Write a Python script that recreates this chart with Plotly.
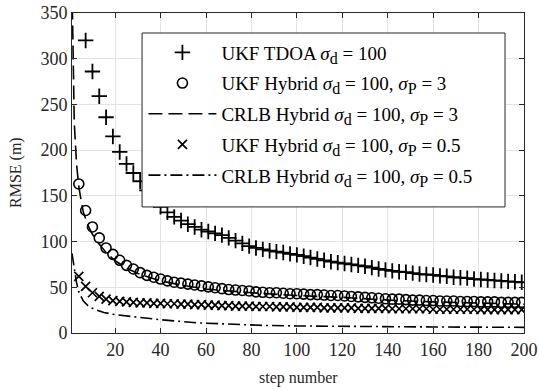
import plotly.graph_objects as go

# UKF outputs sampled every 3 steps
ukf_steps = list(range(1, 200, 3))

ukf_tdoa = [460, 375, 320, 286, 259, 236, 215, 198, 185, 175, 166, 156, 146, 138, 132, 127, 123,
            119, 116, 113, 111, 109, 107, 104, 101, 98, 95, 93, 91.5, 90, 89, 88, 86.5, 85.5,
            84, 82.5, 81, 79.5, 78, 77, 76, 75, 74, 73, 71.5, 70, 69, 68, 67, 66.5, 65.5, 64.5,
            64, 63.5, 62.5, 62, 61, 60.5, 60, 59, 58.5, 58, 57.5, 57, 56.5, 56, 55.5]

ukf_hyb3 = [420, 163, 134, 116, 104, 93, 86, 79.5, 74, 70, 66, 63, 61, 59, 57, 55.5, 54.5,
            53.5, 52.5, 51.5, 50.5, 49.5, 48.5, 47.5, 47, 46.5, 46, 45, 44.5, 44, 44, 43.5, 43,
            43, 42.5, 42, 42, 41.5, 41, 41, 40.5, 40, 39.5, 39, 38.5, 38, 37.5, 37, 37, 36.5,
            36, 36, 35.5, 35.5, 35, 35, 35, 34.5, 34.5, 34.5, 34, 34, 34, 33.5, 33.5, 33.5, 33.5]

ukf_hyb05 = [400, 62, 51, 44, 40, 37, 35.5, 34.5, 34, 33.5, 33, 33, 32.5, 32.5, 32, 32, 31.5,
             31.5, 31, 31, 30.5, 30.5, 30, 30, 29.5, 29.5, 29.5, 29, 29, 29, 28.5, 28.5, 28.5,
             28, 28, 28, 28, 27.5, 27.5, 27.5, 27.5, 27.5, 27, 27, 27, 27, 27, 26.5, 26.5, 26.5,
             26.5, 26.5, 26.5, 26, 26, 26, 26, 26, 26, 26, 25.5, 25.5, 25.5, 25.5, 25.5, 25.5, 25.5]

crlb3_steps = [1, 2, 3, 4, 5, 6, 8, 10, 13, 16, 20, 25, 30, 40, 50, 60, 80, 100, 120, 140, 160, 180, 200]
crlb3_vals = [380, 230, 185, 160, 145, 132, 118, 108, 97, 88, 79, 71, 65, 57, 52, 48, 44, 41, 39, 36, 34, 32.5, 31.5]

crlb05_steps = [1, 2, 3, 4, 5, 6, 8, 10, 12, 15, 20, 28, 40, 57, 70, 85, 100, 130, 160, 200]
crlb05_vals = [87, 70, 55, 45, 39, 35, 30, 27, 25, 22.5, 20, 17.8, 14.5, 11, 9.5, 8.3, 7.7, 7, 6.6, 6.2]

x_ticks = [20, 40, 60, 80, 100, 120, 140, 160, 180, 200]
y_ticks = [0, 50, 100, 150, 200, 250, 300, 350]

SD = "<i>σ</i><sub><span style='font-size:16px'>d</span></sub>"
SP = "<i>σ</i><sub><span style='font-size:16px'>P</span></sub>"
names = [
    f"UKF TDOA {SD} = 100",
    f"UKF Hybrid {SD} = 100, {SP} = 3",
    f"CRLB Hybrid {SD} = 100, {SP} = 3",
    f"UKF Hybrid {SD} = 100, {SP} = 0.5",
    f"CRLB Hybrid {SD} = 100, {SP} = 0.5",
]

INK = "#000000"
FONT = "Liberation Serif, Times New Roman, serif"

fig = go.Figure()
fig.add_trace(go.Scatter(x=ukf_steps, y=ukf_tdoa, mode="markers", name=names[0], legendgroup="a",
                         marker=dict(symbol="cross-thin", size=11, line=dict(width=1.8, color=INK), color=INK)))
fig.add_trace(go.Scatter(x=ukf_steps, y=ukf_hyb3, mode="markers", name=names[1], legendgroup="b",
                         marker=dict(symbol="circle-open", size=10, line=dict(width=1.6, color=INK), color=INK)))
fig.add_trace(go.Scatter(x=crlb3_steps, y=crlb3_vals, mode="lines", name=names[2], legendgroup="c",
                         line=dict(color=INK, width=1.6, dash="14px,6px")))
fig.add_trace(go.Scatter(x=ukf_steps, y=ukf_hyb05, mode="markers", name=names[3], legendgroup="d",
                         marker=dict(symbol="x-thin", size=9, line=dict(width=1.7, color=INK), color=INK)))
fig.add_trace(go.Scatter(x=crlb05_steps, y=crlb05_vals, mode="lines", name=names[4], legendgroup="e",
                         line=dict(color=INK, width=1.6, dash="12px,4px,2px,4px")))

axis_common = dict(
    showline=True, linecolor="#262626", linewidth=1, mirror="ticks",
    ticks="inside", ticklen=5, tickcolor="#262626", tickwidth=1,
    showgrid=True, gridcolor="#e3e3e3", gridwidth=1, zeroline=False,
    automargin=False, ticklabeloverflow="allow",
    tickfont=dict(family=FONT, size=18, color="#262626"),
)

fig.update_layout(
    width=539, height=390,
    margin=dict(l=72, r=15, t=13, b=57),
    paper_bgcolor="white", plot_bgcolor="white",
    font=dict(family=FONT, size=16, color="#262626"),
    showlegend=True,
    legend=dict(x=0.158, y=0.936, xanchor="left", yanchor="top",
                bgcolor="rgba(0,0,0,0)", borderwidth=0,
                font=dict(family=FONT, size=19, color="#000000"),
                tracegroupgap=3, itemwidth=68),
    xaxis=dict(range=[1, 200], tickvals=x_ticks, ticktext=[str(v) for v in x_ticks], **axis_common),
    yaxis=dict(range=[0, 350], tickvals=y_ticks, ticktext=[str(v) for v in y_ticks], **axis_common),
    shapes=[
        dict(type="rect", xref="paper", yref="paper", x0=0.155, x1=0.958, y0=0.394, y1=0.9375,
             fillcolor="white", line=dict(color="#262626", width=1), layer="above"),
    ],
    annotations=[
        dict(text="step number", xref="paper", yref="paper", x=0.5, y=0, yshift=-45,
             xanchor="center", yanchor="middle", showarrow=False,
             font=dict(family=FONT, size=16, color="#262626")),
        dict(text="RMSE (m)", xref="paper", yref="paper", x=0, y=0.5, xshift=-56,
             xanchor="center", yanchor="middle", showarrow=False, textangle=-90,
             font=dict(family=FONT, size=16, color="#262626")),
    ],
)

fig.write_html("out.html", config={"displayModeBar": False},
               post_script="document.body.style.margin='0';")
